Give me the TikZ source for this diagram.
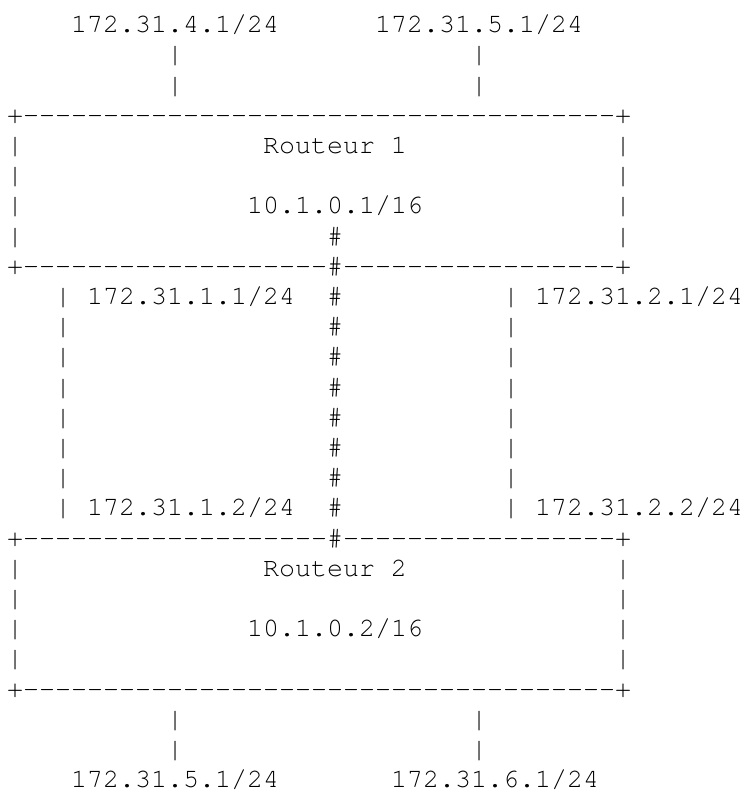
\documentclass[tikz,border=0pt]{standalone}
\usepackage{fontspec}
\setmonofont{texgyrecursor-regular.otf}
\frenchspacing

\begin{document}
\begin{tikzpicture}[x=16pt, y=-30.2pt, every node/.style={font=\ttfamily\fontsize{26.67pt}{30.2pt}\selectfont, inner sep=0pt, outer sep=0pt, anchor=base west}]
\path[use as bounding box] (-7pt,32.7pt) rectangle (736pt,-759.3pt);
% reseaux du routeur 1
\node (lan4) at (4,0) {172.31.4.1/24}; \node (lan5) at (23,0) {172.31.5.1/24};
\node (lan4a) at (10,1) {|}; \node (lan4b) at (10,2) {|};
\node (lan5a) at (29,1) {|}; \node (lan5b) at (29,2) {|};
% routeur 1
\node (r1top) at (0,3) {+-------------------------------------+};
\foreach \r in {4,...,7} {\node (r1left\r) at (0,\r) {|}; \node (r1right\r) at (38,\r) {|};}
\node (r1name) at (16,4) {Routeur 1};
\node (r1ip) at (15,6) {10.1.0.1/16};
\node (r1hash) at (20,7) {\#};
\node (r1bot) at (0,8) {+-------------------\#-----------------+};
% liaisons entre les routeurs
\foreach \r in {9,...,16} {\node (linkA\r) at (3,\r) {|}; \node (linkB\r) at (20,\r) {\#}; \node (linkC\r) at (31,\r) {|};}
\node (ip11) at (5,9) {172.31.1.1/24}; \node (ip21) at (33,9) {172.31.2.1/24};
\node (ip12) at (5,16) {172.31.1.2/24}; \node (ip22) at (33,16) {172.31.2.2/24};
% routeur 2
\node (r2top) at (0,17) {+-------------------\#-----------------+};
\foreach \r in {18,...,21} {\node (r2left\r) at (0,\r) {|}; \node (r2right\r) at (38,\r) {|};}
\node (r2name) at (16,18) {Routeur 2};
\node (r2ip) at (15,20) {10.1.0.2/16};
\node (r2bot) at (0,22) {+-------------------------------------+};
% reseaux du routeur 2
\node (lan5c) at (10,23) {|}; \node (lan5d) at (10,24) {|};
\node (lan6a) at (29,23) {|}; \node (lan6b) at (29,24) {|};
\node (lan5bis) at (4,25) {172.31.5.1/24}; \node (lan6) at (24,25) {172.31.6.1/24};
\end{tikzpicture}
\end{document}
